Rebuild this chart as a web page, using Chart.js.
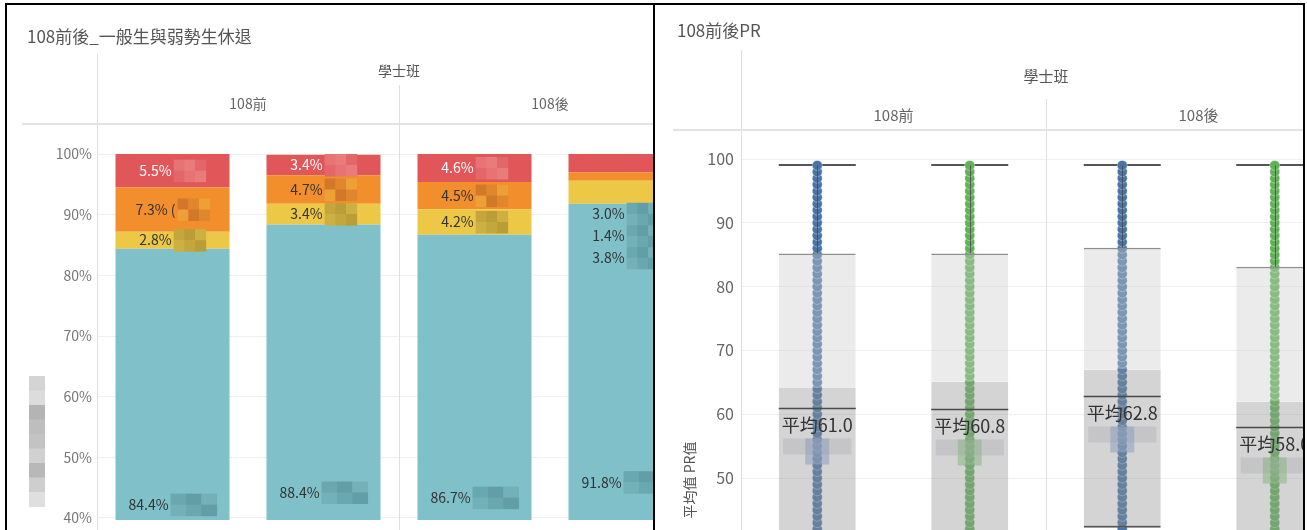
<!DOCTYPE html>
<html lang="zh-Hant">
<head>
<meta charset="utf-8">
<title>108前後</title>
<script src="https://cdn.jsdelivr.net/npm/chart.js@4.4.1/dist/chart.umd.min.js"></script>
<style>
  html, body { margin: 0; padding: 0; background: #fff; }
  body { width: 1307px; height: 530px; position: relative; overflow: hidden; }
  .edge { position: absolute; background: #000; }
  .pane { position: absolute; top: 5px; height: 525px; overflow: hidden; background: #fff; }
  .pane canvas { position: absolute; left: 0; top: 0; }
</style>
</head>
<body>
<div class="pane" style="left:7px;width:646px"><canvas id="dropChart" width="700" height="525" style="width:700px;height:525px"></canvas></div>
<div class="pane" style="left:655px;width:648px"><canvas id="prChart" width="700" height="525" style="width:700px;height:525px"></canvas></div>
<div class="edge" style="left:5px;top:3px;width:1300px;height:2px"></div>
<div class="edge" style="left:5px;top:3px;width:2px;height:527px"></div>
<div class="edge" style="left:653px;top:3px;width:2px;height:527px"></div>
<div class="edge" style="left:1303px;top:3px;width:2px;height:527px"></div>

<script>
const FONT = '"Noto Sans CJK TC", "Noto Sans", sans-serif'
Chart.defaults.font.family = FONT
Chart.defaults.animation = false


// =======================
// Data
// =======================
const levelName = '學士班'
const groups    = ['108前', '108前', '108後', '108後']
const students  = ['一般生', '弱勢生', '一般生', '弱勢生']
const catLabels = groups.map((g, i) => g + ' ' + students[i])

// left chart, % of students (bottom -> top)
const tealPct   = [84.4, 88.4, 86.7, 91.8]
const yellowPct = [2.8, 3.4, 4.2, 3.8]
const orangePct = [7.3, 4.7, 4.5, 1.4]
const redPct    = [5.5, 3.4, 4.6, 3.0]
const pctTicks  = [40, 50, 60, 70, 80, 90, 100]

// right chart, PR values
const prValues = [41, 42, 43, 44, 45, 46, 47, 48, 49, 50, 51, 52, 53, 54, 55, 56, 57, 58, 59, 60,
                  61, 62, 63, 64, 65, 66, 67, 68, 69, 70, 71, 72, 73, 74, 75, 76, 77, 78, 79, 80,
                  81, 82, 83, 84, 85, 86, 87, 88, 89, 90, 91, 92, 93, 94, 95, 96, 97, 98, 99]
const prQ1     = [38.0, 38.0, 42.2, 37.0]
const prMedian = [64.1, 65.1, 67.0, 62.0]
const prQ3     = [85.2, 85.2, 86.1, 83.1]
const prTop    = [99, 99, 99, 99]
const prMean   = [61.0, 60.8, 62.8, 58.0]
const prTicks  = [50, 60, 70, 80, 90, 100]


// =======================
// Helpers
// =======================
function line(ctx, x1, y1, x2, y2) {
  ctx.beginPath()
  ctx.moveTo(x1, y1)
  ctx.lineTo(x2, y2)
  ctx.stroke()
}

function mosaic(ctx, x, y, w, h, colors) {
  const cols = 3, rows = 2
  const cw = w / cols, ch = h / rows
  for (let r = 0; r < rows; r++) {
    for (let c = 0; c < cols; c++) {
      ctx.fillStyle = colors[(r * 2 + c) % colors.length]
      ctx.fillRect(x + c * cw, y + r * ch, cw + 0.5, ch + 0.5)
    }
  }
}

// tableau style header: title, level, group labels and pane lines
function headerPlugin(cfg) {
  return {
    id: 'header',
    afterDraw(chart) {
      const { ctx, chartArea: a } = chart
      const x = chart.scales.x
      ctx.save()
      ctx.strokeStyle = '#dedede'
      ctx.lineWidth = 1
      line(ctx, Math.round(a.left) + 0.5, cfg.paneTop, Math.round(a.left) + 0.5, chart.height)
      const mid = Math.round(x.getPixelForValue(1.5)) + 0.5
      line(ctx, mid, cfg.groupTop, mid, chart.height)
      ctx.strokeStyle = '#e2e2e2'
      ctx.lineWidth = 2
      line(ctx, cfg.ruleLeft, Math.round(a.top), chart.width, Math.round(a.top))

      ctx.textBaseline = 'middle'
      ctx.textAlign = 'left'
      ctx.fillStyle = '#555'
      ctx.font = `${cfg.titleSize}px ${FONT}`
      ctx.fillText(cfg.title, cfg.titleX, cfg.titleY)

      ctx.textAlign = 'center'
      ctx.font = `${cfg.headSize}px ${FONT}`
      ctx.fillStyle = '#555'
      ctx.fillText(levelName, (a.left + a.right) / 2, cfg.levelY)
      ctx.fillStyle = '#666'
      ;[0, 2].forEach(i => ctx.fillText(groups[i], x.getPixelForValue(i + 0.5), cfg.groupY))
      ctx.restore()
      if (cfg.extra) cfg.extra(chart)
    }
  }
}


// =======================
// Left: stacked %
// =======================
const segColors = ['#7fc0c9', '#ecc846', '#f28e2b', '#e15759']
const segMosaic = [
  ['#6aa8b0', '#619ea5', '#73b1b8'],
  ['#c4a63c', '#b89d38', '#cdb043'],
  ['#d2782a', '#e0862c', '#eca035'],
  ['#e87375', '#ea7b7c', '#e36668']
]
const stackBelow = [false, false, false, true]

const barLabels = {
  id: 'barLabels',
  afterDatasetsDraw(chart) {
    const ctx = chart.ctx
    ctx.save()
    ctx.font = `14px ${FONT}`
    ctx.textBaseline = 'middle'
    ctx.textAlign = 'left'
    chart.data.datasets.forEach((ds, di) => {
      chart.getDatasetMeta(di).data.forEach((bar, i) => {
        let text = ds.data[i].toFixed(1) + '%'
        if (di === 2 && i === 0) text += ' ('
        let cy = (bar.y + bar.base) / 2
        if (stackBelow[i] && di > 0) {
          cy = chart.getDatasetMeta(0).data[i].y + 10 + (3 - di) * 22
        }
        const tw = ctx.measureText(text).width
        const mw = di === 0 ? 46 : 32
        const x0 = bar.x - (tw + 2 + mw) / 2
        mosaic(ctx, x0 + tw + 2, cy - 11, mw, 22, segMosaic[stackBelow[i] && di > 0 ? 0 : di])
        ctx.fillStyle = (di === 3 && !stackBelow[i]) ? '#fff' : '#333'
        ctx.fillText(text, x0, cy)
      })
    })
    ctx.restore()
  }
}

function leftTitleBlur(chart) {
  const ctx = chart.ctx
  const shades = ['#d4d4d4', '#dcdcdc', '#b4b4b4', '#bebebe', '#c3c3c3', '#d1d1d1', '#b8b8b8', '#cecece', '#dfdfdf']
  shades.forEach((c, k) => {
    ctx.fillStyle = c
    ctx.fillRect(22, 371 + k * 14.5, 16, 15)
  })
}

new Chart(document.getElementById('dropChart'), {
  type: 'bar',
  data: {
    labels: catLabels,
    datasets: [tealPct, yellowPct, orangePct, redPct].map((vals, k) => ({
      label: 'seg' + k,
      data: vals,
      backgroundColor: segColors[k],
      borderWidth: 0,
      barPercentage: 0.755,
      categoryPercentage: 1,
      clip: 0
    }))
  },
  options: {
    responsive: false,
    events: [],
    layout: { autoPadding: false, padding: { left: 0, top: 119, right: 6, bottom: 10 } },
    plugins: { legend: { display: false }, tooltip: { enabled: false } },
    scales: {
      x: { stacked: true, display: false },
      y: {
        stacked: true,
        min: 39.67,
        max: 104.95,
        afterBuildTicks: s => { s.ticks = pctTicks.map(v => ({ value: v })) },
        afterFit: s => { s.width = 90; s.paddingTop = 0; s.paddingBottom = 0 },
        border: { display: false },
        grid: { color: '#f0f0f0', drawTicks: false },
        ticks: { padding: 5, color: '#777', font: { size: 14 }, callback: v => v + '%' }
      }
    }
  },
  plugins: [barLabels, headerPlugin({
    title: '108前後_一般生與弱勢生休退', titleX: 20, titleY: 32, titleSize: 17,
    headSize: 14, levelY: 66, groupY: 99,
    paneTop: 49, groupTop: 80, ruleLeft: 15,
    extra: leftTitleBlur
  })]
})


// =======================
// Right: PR box plots
// =======================
const dotColors = ['#4a74a5', '#62b159']

const dotPoints = idx => idx.flatMap(i => prValues.map(v => ({ x: catLabels[i], y: v })))

const boxMarks = {
  id: 'boxMarks',
  beforeDatasetsDraw(chart) {
    const { ctx, scales: { y } } = chart
    const boxes = chart.getDatasetMeta(0).data
    ctx.save()
    ctx.strokeStyle = '#555'
    ctx.lineWidth = 2
    boxes.forEach((b, i) => {
      const py = Math.round(y.getPixelForValue(prTop[i]))
      line(ctx, b.x - b.width / 2, py, b.x + b.width / 2, py)
    })
    ctx.restore()
  },
  afterDatasetsDraw(chart) {
    const { ctx, scales: { y } } = chart
    const boxes = chart.getDatasetMeta(0).data
    ctx.save()
    boxes.forEach((b, i) => {
      const left = b.x - b.width / 2, right = b.x + b.width / 2
      // whisker
      ctx.strokeStyle = 'rgba(70,70,70,0.75)'
      ctx.lineWidth = 1
      line(ctx, Math.round(b.x) + 0.5, y.getPixelForValue(prTop[i]), Math.round(b.x) + 0.5, y.getPixelForValue(prQ3[i]))
      // mean reference
      const my = Math.round(y.getPixelForValue(prMean[i])) + 0.5
      ctx.strokeStyle = '#4a4a4a'
      ctx.lineWidth = 1.6
      line(ctx, left, my, right, my)
      // hidden second line of label
      const tint = i % 2 === 0 ? 'rgba(140,160,192,0.55)' : 'rgba(140,180,135,0.55)'
      ctx.fillStyle = 'rgba(168,170,178,0.35)'
      ctx.fillRect(b.x - 34, my + 30, 68, 16)
      ctx.fillStyle = tint
      ctx.fillRect(b.x - 12, my + 30, 24, 26)
      // label
      ctx.fillStyle = '#333'
      ctx.font = `18px ${FONT}`
      ctx.textAlign = 'center'
      ctx.textBaseline = 'middle'
      ctx.fillText('平均' + prMean[i].toFixed(1), b.x, my + 17)
    })
    ctx.restore()
  }
}

function prAxisTitle(chart) {
  const ctx = chart.ctx
  ctx.save()
  ctx.translate(35, chart.chartArea.bottom - 50)
  ctx.rotate(-Math.PI / 2)
  ctx.fillStyle = '#555'
  ctx.font = `14px ${FONT}`
  ctx.textAlign = 'center'
  ctx.textBaseline = 'middle'
  ctx.fillText('平均值 PR值', 0, 0)
  ctx.restore()
}

const dotStyle = {
  type: 'line',
  showLine: false,
  pointRadius: 5,
  pointBorderWidth: 1,
  pointBorderColor: 'rgba(255,255,255,0.35)',
  clip: 0,
  order: 1
}

new Chart(document.getElementById('prChart'), {
  type: 'bar',
  data: {
    labels: catLabels,
    datasets: [
      {
        label: 'upper',
        data: prMedian.map((m, i) => [m, prQ3[i]]),
        backgroundColor: 'rgba(204,204,204,0.39)',
        borderColor: '#8e8e8e',
        borderWidth: { top: 1.5, bottom: 0, left: 0, right: 0 },
        borderSkipped: false,
        grouped: false,
        barPercentage: 0.505,
        categoryPercentage: 1,
        clip: 0,
        order: 0
      },
      {
        label: 'lower',
        data: prQ1.map((q, i) => [q, prMedian[i]]),
        backgroundColor: 'rgba(148,148,148,0.4)',
        borderColor: '#555',
        borderWidth: { top: 0, bottom: 2, left: 0, right: 0 },
        borderSkipped: false,
        grouped: false,
        barPercentage: 0.505,
        categoryPercentage: 1,
        clip: 0,
        order: 0
      },
      { ...dotStyle, label: students[0], data: dotPoints([0, 2]), pointBackgroundColor: dotColors[0] },
      { ...dotStyle, label: students[1], data: dotPoints([1, 3]), pointBackgroundColor: dotColors[1] }
    ]
  },
  options: {
    responsive: false,
    events: [],
    layout: { autoPadding: false, padding: { left: 0, top: 125, right: 4, bottom: 0 } },
    plugins: { legend: { display: false }, tooltip: { enabled: false } },
    scales: {
      x: { display: false },
      y: {
        min: 41.85,
        max: 104.55,
        afterBuildTicks: s => { s.ticks = prTicks.map(v => ({ value: v })) },
        afterFit: s => { s.width = 86; s.paddingTop = 0; s.paddingBottom = 0 },
        border: { display: false },
        grid: { color: '#f0f0f0', drawTicks: false },
        ticks: { padding: 7, color: '#666', font: { size: 16 } }
      }
    }
  },
  plugins: [boxMarks, headerPlugin({
    title: '108前後PR', titleX: 22, titleY: 26, titleSize: 17,
    headSize: 15, levelY: 71, groupY: 110,
    paneTop: 45, groupTop: 94, ruleLeft: 18,
    extra: prAxisTitle
  })]
})
</script>
</body>
</html>
